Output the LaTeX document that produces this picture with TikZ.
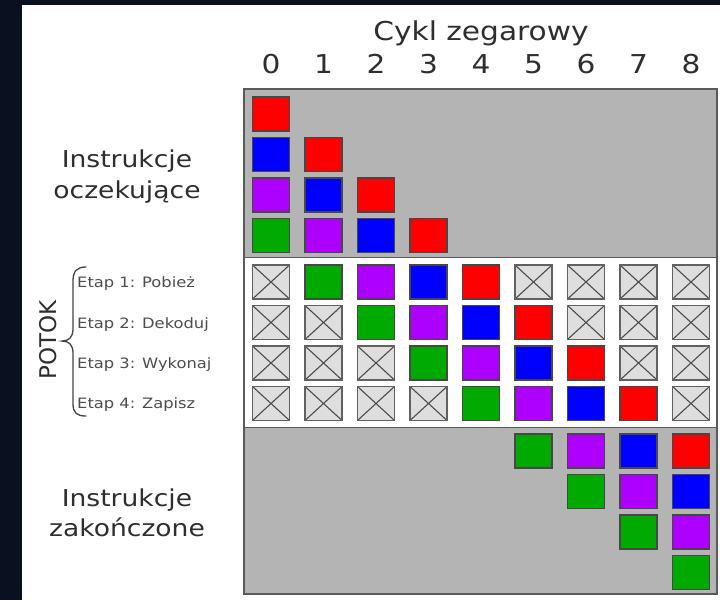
\documentclass[tikz,border=0pt]{standalone}
\usepackage{fontspec}
\setmainfont{DejaVu Sans}[FakeStretch=1.14]
\newfontfamily\plainsans{DejaVu Sans}
\definecolor{bgdark}{HTML}{0A1020}
\definecolor{panelgray}{HTML}{B4B4B4}
\definecolor{framegray}{HTML}{5A5A5A}
\definecolor{xfill}{HTML}{DEDEDE}
\definecolor{txt}{HTML}{2E2E2E}
\definecolor{ired}{HTML}{FF0000}
\definecolor{iblue}{HTML}{0000FF}
\definecolor{ipurple}{HTML}{AE00FF}
\definecolor{igreen}{HTML}{00AA00}
\def\nonecol{none}
\begin{document}
\begin{tikzpicture}[x=1pt,y=-1pt,
  sq/.style={minimum width=37pt,minimum height=34pt,inner sep=0pt,
    draw=black!72,line width=1.3pt},
  xbox/.style={sq,fill=xfill,draw=black!62,
    path picture={\draw[black!70,line width=1.1pt]
      (path picture bounding box.north west) -- (path picture bounding box.south east)
      (path picture bounding box.south west) -- (path picture bounding box.north east);}},
  biglbl/.style={text=txt,font=\fontsize{23.3}{30}\selectfont,align=center,inner sep=0pt},
  hdr/.style={text=txt,font=\fontsize{26}{30}\selectfont,inner sep=0pt,anchor=base},
  stagelbl/.style={text=txt!85,font=\fontsize{14.3}{17}\selectfont,inner sep=0pt,anchor=base west}]

% backdrop and page
\fill[bgdark] (0,0) rectangle (720,600);
\fill[white] (22,5) rectangle (720,600);

% panel: waiting (top), pipeline (middle), finished (bottom)
\fill[panelgray] (244,89) rectangle (717,257.5);
\fill[panelgray] (244,427.5) rectangle (717,594);
\draw[framegray,line width=1.8pt] (244,89) rectangle (717,594);
\draw[framegray,line width=1.8pt] (244,257.5) -- (717,257.5);
\draw[framegray,line width=1.8pt] (244,427.5) -- (717,427.5);

% header
\node[hdr] (title) at (481,40) {Cykl zegarowy};
\foreach \c in {0,...,8}
  \node[hdr] (cyc\c) at ({271+52.5*\c},73) {\c};

% side labels
\node[biglbl,anchor=base] (waitA) at (127,167) {Instrukcje};
\node[biglbl,anchor=base] (waitB) at (127,198) {oczekujące};
\node[biglbl,anchor=base] (doneA) at (127,506) {Instrukcje};
\node[biglbl,anchor=base] (doneB) at (127,536) {zakończone};

\node[stagelbl] (st0) at (77,287) {Etap 1: Pobież};
\node[stagelbl] (st1) at (77,328) {Etap 2: Dekoduj};
\node[stagelbl] (st2) at (77,368) {Etap 3: Wykonaj};
\node[stagelbl] (st3) at (77,408.5) {Etap 4: Zapisz};

\node[text=txt,font=\plainsans\fontsize{23}{28}\selectfont,inner sep=0pt,rotate=90]
  (potok) at (48,340) {POTOK};
\draw[txt!90,line width=1.3pt,line cap=round]
  (86,267) .. controls (77,267) and (73,271) .. (73,281) -- (73,329)
  .. controls (73,337) and (69,341) .. (62,341)
  .. controls (69,341) and (73,345) .. (73,353) -- (73,404)
  .. controls (73,413) and (77,416) .. (86,416);

% waiting instructions
\foreach \c in {0,...,3}{
  \foreach \r [evaluate=\r as \k using int(\r-\c)] in {\c,...,3}{
    \ifcase\k \def\col{ired}\or \def\col{iblue}\or \def\col{ipurple}\or \def\col{igreen}\fi
    \node[sq,fill=\col] (w-\c-\r) at ({271+52.5*\c},{114+40.5*\r}) {};
  }
}

% pipeline stages
\foreach \c in {0,...,8}{
  \foreach \s in {0,...,3}{
    \pgfmathtruncatemacro{\k}{\c-1-\s}
    \ifnum\k<0 \def\col{none}\else\ifnum\k>3 \def\col{none}\else
      \ifcase\k \def\col{igreen}\or \def\col{ipurple}\or \def\col{iblue}\or \def\col{ired}\fi
    \fi\fi
    \ifx\col\nonecol
      \node[xbox] (p-\c-\s) at ({271+52.5*\c},{282+40.5*\s}) {};
    \else
      \node[sq,fill=\col] (p-\c-\s) at ({271+52.5*\c},{282+40.5*\s}) {};
    \fi
  }
}

% finished instructions
\foreach \c in {5,...,8}{
  \pgfmathtruncatemacro{\n}{\c-4}
  \foreach \r in {1,...,\n}{
    \pgfmathtruncatemacro{\k}{\n-\r}
    \ifcase\k \def\col{igreen}\or \def\col{ipurple}\or \def\col{iblue}\or \def\col{ired}\fi
    \node[sq,fill=\col] (d-\c-\r) at ({271+52.5*\c},{451+40.5*(\r-1)}) {};
  }
}
\end{tikzpicture}
\end{document}
